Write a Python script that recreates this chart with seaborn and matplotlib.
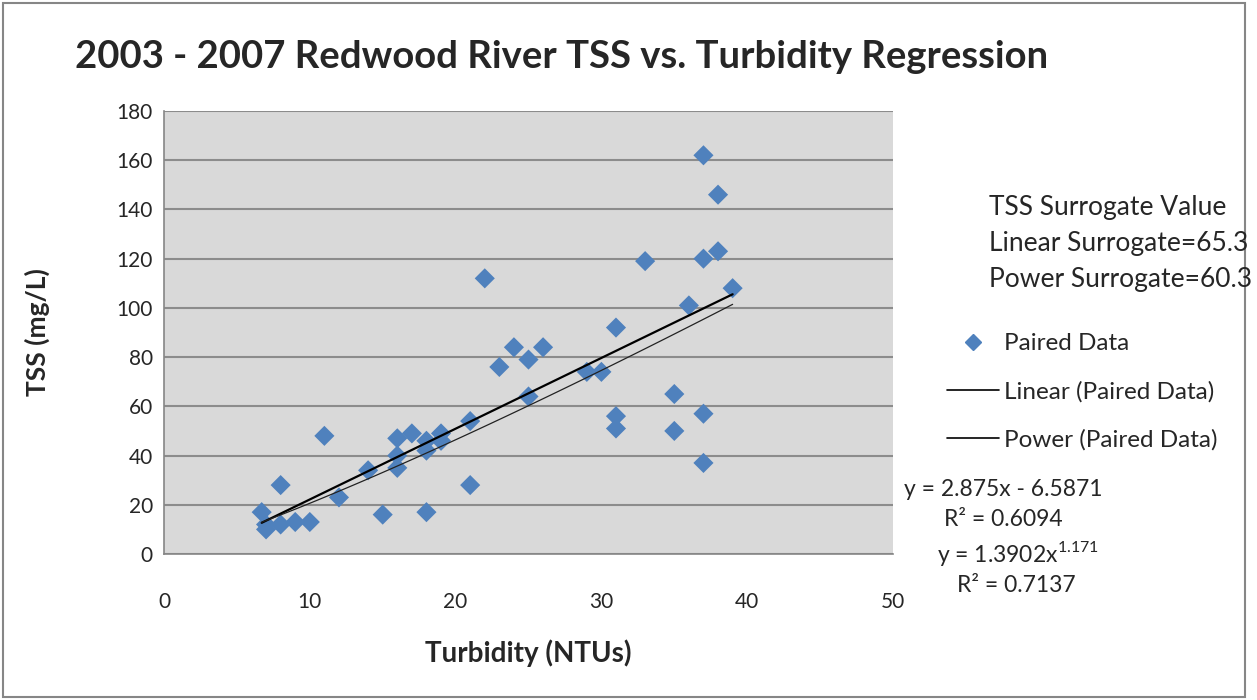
import numpy as np
import pandas as pd
import matplotlib
matplotlib.use("Agg")
import matplotlib.pyplot as plt
import seaborn as sns
from matplotlib.lines import Line2D
from matplotlib.patches import Rectangle

# Paired data
turbidity = [6.7, 7, 7, 8, 8, 9, 10, 11, 12, 14, 15, 16, 16, 16, 17, 18, 18, 18, 19, 19,
             21, 21, 22, 23, 24, 25, 25, 26, 29, 30, 31, 31, 31, 33, 35, 35, 36,
             37, 37, 37, 37, 38, 38, 39]
tss = [17, 12, 10, 28, 12, 13, 13, 48, 23, 34, 16, 47, 40, 35, 49, 46, 42, 17, 49, 46,
       54, 28, 112, 76, 84, 79, 64, 84, 74, 74, 92, 56, 51, 119, 65, 50, 101,
       162, 120, 57, 37, 146, 123, 108]

# trendline coefficients shown on the chart
lin_slope, lin_icpt = 2.875, -6.5871
pow_a, pow_b = 1.3902, 1.171

df = pd.DataFrame({"turbidity": turbidity, "tss": tss})
xs = np.linspace(min(turbidity), max(turbidity), 60)
trend = pd.DataFrame({"x": xs,
                      "linear": lin_slope * xs + lin_icpt,
                      "power": pow_a * xs ** pow_b})

sns.set_style("white")
plt.rcParams["font.family"] = ["Lato", "DejaVu Sans"]

fig = plt.figure(figsize=(12.57, 7), dpi=100)
ax = fig.add_axes([164 / 1257, 146 / 700, 729 / 1257, 443 / 700])
ax.set_facecolor("#d9d9d9")

sns.scatterplot(data=df, x="turbidity", y="tss", marker="D", s=105, color="#4f81bd",
                edgecolor="none", ax=ax, zorder=3)
sns.lineplot(data=trend, x="x", y="linear", color="black", linewidth=1.6, ax=ax, zorder=4)
sns.lineplot(data=trend, x="x", y="power", color="#222222", linewidth=0.9, ax=ax, zorder=4)

ax.set_xlim(0, 50)
ax.set_ylim(0, 180)
ax.set_xticks(range(0, 51, 10))
ax.set_yticks(range(0, 181, 20))
ax.yaxis.grid(True, color="#8c8c8c", linewidth=1.5)
ax.set_axisbelow(True)
for s in ["top", "right"]:
    ax.spines[s].set_visible(False)
for s in ["left", "bottom"]:
    ax.spines[s].set_color("#868686")
    ax.spines[s].set_linewidth(1.2)
ax.tick_params(axis="both", direction="out", length=5, width=1.2, color="#868686",
               labelsize=15)
ax.tick_params(axis="x", pad=22)
ax.tick_params(axis="y", pad=3)
ax.set_xlabel("Turbidity (NTUs)", fontsize=20, fontweight="bold", labelpad=20)
ax.set_ylabel("TSS (mg/L)", fontsize=19, fontweight="bold", labelpad=48)

fig.text(75 / 1257, 1 - 57 / 700, "2003 - 2007 Redwood River TSS vs. Turbidity Regression",
         fontsize=27.5, fontweight="bold", va="center", ha="left")

# surrogate values box text
for i, t in enumerate(["TSS Surrogate Value", "Linear Surrogate=65.3", "Power Surrogate=60.3"]):
    fig.text(989 / 1257, 1 - (208 + 35.5 * i) / 700, t, fontsize=19, va="center", ha="left")

handles = [Line2D([], [], marker="D", linestyle="none", color="#4f81bd", markersize=8),
           Line2D([], [], color="black", linewidth=1.2),
           Line2D([], [], color="black", linewidth=1.2)]
fig.legend(handles, ["Paired Data", "Linear (Paired Data)", "Power (Paired Data)"],
           loc="center left", bbox_to_anchor=(925 / 1257, 1 - 392 / 700), frameon=False,
           fontsize=17.5, handlelength=2.15, handletextpad=0.2, labelspacing=1.1)

fig.text(1003 / 1257, 1 - 489 / 700, "y = 2.875x - 6.5871", fontsize=16.5, ha="center", va="center")
fig.text(1003 / 1257, 1 - 520 / 700, "R\u00b2 = 0.6094", fontsize=16.5, ha="center", va="center")
fig.text(1018 / 1257, 1 - 553 / 700, r"y = 1.3902x$^{\mathregular{1.171}}$", fontsize=16.5,
         ha="center", va="center")
fig.text(1016 / 1257, 1 - 585 / 700, "R\u00b2 = 0.7137", fontsize=16.5, ha="center", va="center")

# chart border
fig.patches.append(Rectangle((3 / 1257, 3 / 700), 1242 / 1257, 694 / 700,
                             transform=fig.transFigure, fill=False,
                             edgecolor="#868686", linewidth=1.5))

fig.savefig("out.png", dpi=100)
